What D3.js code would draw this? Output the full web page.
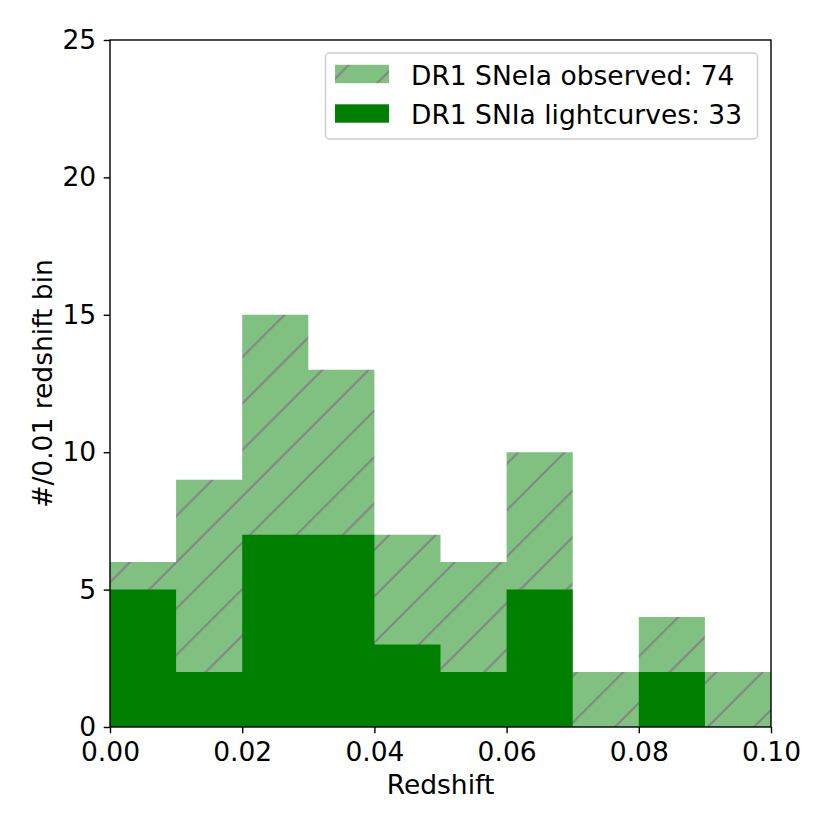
<!DOCTYPE html>
<html>
<head>
<meta charset="utf-8">
<script src="https://cdn.jsdelivr.net/npm/d3@7"></script>
<style>
  body { margin: 0; background: #fff; }
  text { font-family: "DejaVu Sans", sans-serif; }
</style>
</head>
<body>
<div id="container"></div>
<script>
/* DATA */
const binStarts = [0.00, 0.01, 0.02, 0.03, 0.04, 0.05, 0.06, 0.07, 0.08, 0.09];
const binWidth = 0.01;
const observed = [6, 9, 15, 13, 7, 6, 10, 2, 4, 2];
const lightcurves = [5, 2, 7, 7, 3, 2, 5, 0, 2, 0];
const xTicks = [0.00, 0.02, 0.04, 0.06, 0.08, 0.10];
const yTicks = [0, 5, 10, 15, 20, 25];
const legendLabels = ["DR1 SNeIa observed: 74", "DR1 SNIa lightcurves: 33"];

/* CONSTANTS */
const width = 830, height = 830,
  margin = { top: 40, bottom: 103, left: 110, right: 59 },
  fontSize = 26.5,
  tickLen = 6.3;

const svg = d3.select("#container")
  .append("svg")
  .attr("width", width)
  .attr("height", height);

/* SCALES */
const xScale = d3.scaleLinear()
  .domain([0, 0.10])
  .range([margin.left, width - margin.right]);

const yScale = d3.scaleLinear()
  .domain([0, 25])
  .range([height - margin.bottom, margin.top]);

// hatch pattern for the observed histogram
const hs = 46.4;
const defs = svg.append("defs");
const pat = defs.append("pattern")
  .attr("id", "hatch")
  .attr("patternUnits", "userSpaceOnUse")
  .attr("x", 0).attr("y", 42.6)
  .attr("width", hs).attr("height", hs);
pat.append("rect").attr("width", hs).attr("height", hs).attr("fill", "#80c080");
pat.append("path")
  .attr("d", `M0,${hs}L${hs},0M${-hs / 2},${hs / 2}L${hs / 2},${-hs / 2}M${hs / 2},${1.5 * hs}L${1.5 * hs},${hs / 2}`)
  .attr("stroke", "#808080")
  .attr("stroke-width", 1.8);

// step histograms
const steps = vals => binStarts.map((b, i) => [b, vals[i]])
  .concat([[binStarts[binStarts.length - 1] + binWidth, vals[vals.length - 1]]]);

const area = d3.area()
  .x(d => xScale(d[0]))
  .y0(yScale(0))
  .y1(d => yScale(d[1]))
  .curve(d3.curveStepAfter);

svg.append("path")
  .attr("d", area(steps(observed)))
  .attr("fill", "url(#hatch)");

svg.append("path")
  .attr("d", area(steps(lightcurves)))
  .attr("fill", "#008000");

/* AXES */
const xAxis = d3.axisBottom(xScale)
  .tickValues(xTicks)
  .tickFormat(d3.format(".2f"))
  .tickSize(tickLen)
  .tickPadding(8.5);

const yAxis = d3.axisLeft(yScale)
  .tickValues(yTicks)
  .tickFormat(d3.format("d"))
  .tickSize(tickLen)
  .tickPadding(7.5);

const gx = svg.append("g")
  .attr("transform", `translate(0,${height - margin.bottom})`)
  .call(xAxis);
const gy = svg.append("g")
  .attr("transform", `translate(${margin.left},0)`)
  .call(yAxis);

[gx, gy].forEach(g => {
  g.select(".domain").remove();
  g.selectAll(".tick line").attr("stroke", "#000").attr("stroke-width", 1.4);
  g.selectAll(".tick text")
    .attr("fill", "#000")
    .style("font-size", fontSize + "px")
    .style("font-family", "'DejaVu Sans', sans-serif");
});

// frame
svg.append("rect")
  .attr("x", xScale(0))
  .attr("y", yScale(25))
  .attr("width", xScale(0.10) - xScale(0))
  .attr("height", yScale(0) - yScale(25))
  .attr("fill", "none")
  .attr("stroke", "#000")
  .attr("stroke-width", 1.4);

// axis labels
svg.append("text")
  .attr("x", (xScale(0) + xScale(0.10)) / 2)
  .attr("y", 794)
  .attr("text-anchor", "middle")
  .style("font-size", fontSize + "px")
  .text("Redshift");

svg.append("text")
  .attr("transform", `translate(52,${(yScale(0) + yScale(25)) / 2}) rotate(-90)`)
  .attr("text-anchor", "middle")
  .style("font-size", fontSize + "px")
  .text("#/0.01 redshift bin");

/* LEGEND */
const legend = svg.append("g");
legend.append("rect")
  .attr("x", 325.5).attr("y", 53)
  .attr("width", 432).attr("height", 86)
  .attr("rx", 4)
  .attr("fill", "#fff").attr("fill-opacity", 0.8)
  .attr("stroke", "#cccccc").attr("stroke-width", 1.4);

const legendFills = ["url(#hatch)", "#008000"];
legendLabels.forEach((lab, i) => {
  const cy = 74 + i * 39.5;
  legend.append("rect")
    .attr("x", 335).attr("y", cy - 9.2)
    .attr("width", 54).attr("height", 18.4)
    .attr("fill", legendFills[i]);
  legend.append("text")
    .attr("x", 411).attr("y", cy + 10.5)
    .style("font-size", fontSize + "px")
    .text(lab);
});
</script>
</body>
</html>
